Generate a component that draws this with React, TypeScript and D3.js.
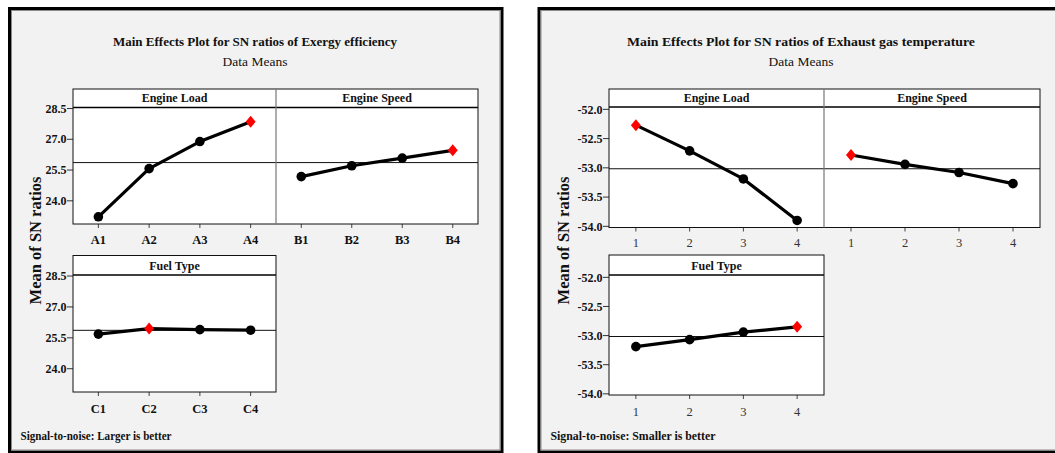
import React from "react";
import * as d3 from "d3";

// ---- Exergy efficiency (larger is better) ----
const loadLevelsA = ["A1", "A2", "A3", "A4"];
const speedLevelsB = ["B1", "B2", "B3", "B4"];
const fuelLevelsC = ["C1", "C2", "C3", "C4"];
const exergyLoadSN = [23.22, 25.57, 26.89, 27.86];
const exergySpeedSN = [25.18, 25.71, 26.08, 26.46];
const exergyFuelSN = [25.68, 25.95, 25.9, 25.87];
const exergyTicks = [24.0, 25.5, 27.0, 28.5];
const exergyTickLabels = ["24.0", "25.5", "27.0", "28.5"];

// ---- Exhaust gas temperature (smaller is better) ----
const numericLevels = ["1", "2", "3", "4"];
const exhaustLoadSN = [-52.27, -52.71, -53.19, -53.9];
const exhaustSpeedSN = [-52.78, -52.94, -53.08, -53.27];
const exhaustFuelSN = [-53.19, -53.07, -52.94, -52.85];
const exhaustTicks = [-54.0, -53.5, -53.0, -52.5, -52.0];
const exhaustTickLabels = ["-54.0", "-53.5", "-53.0", "-52.5", "-52.0"];

const factorNames = ["Engine Load", "Engine Speed", "Fuel Type"];

const SERIF = "'Liberation Serif', 'Times New Roman', 'DejaVu Serif', serif";

type Factor = { name: string; levels: string[]; values: number[] };
type Row = { top: number; header: number; bottom: number };

type ChartProps = {
  frame: { x: number; y: number; w: number; h: number };
  titleX: number;
  titleWidth: number;
  title: string;
  subtitle: string;
  footnote: string;
  footWidth: number;
  factors: Factor[];
  yDomain: [number, number];
  ticks: number[];
  tickLabels: string[];
  cols: [number, number, number];
  rows: Row[];
  boldX: boolean;
  xLabelBaseline: number[];
  yTitleX: number;
  footX: number;
};

function MainEffectsChart(p: ChartProps) {
  const [x0, xm, x1] = p.cols;
  const allValues = p.factors.flatMap((f) => f.values);
  const grandMean = d3.mean(allValues) as number;

  // grid position of each factor: (row, col)
  const slots = [
    [0, 0],
    [0, 1],
    [1, 0],
  ];

  return (
    <g>
      {/* outer frame */}
      <rect
        x={p.frame.x}
        y={p.frame.y}
        width={p.frame.w}
        height={p.frame.h}
        fill="#f2f2f2"
        stroke="#000"
        strokeWidth={3}
      />
      <rect
        x={p.frame.x + 2}
        y={p.frame.y + 2}
        width={p.frame.w - 4}
        height={p.frame.h - 4}
        fill="none"
        stroke="#8a8a8a"
        strokeWidth={1}
      />
      <text
        x={p.titleX}
        y={46}
        textAnchor="middle"
        fontFamily={SERIF}
        fontWeight="bold"
        fontSize={13.5}
        textLength={p.titleWidth}
        lengthAdjust="spacingAndGlyphs"
        fill="#111"
      >
        {p.title}
      </text>
      <text
        x={p.titleX}
        y={66}
        textAnchor="middle"
        fontFamily={SERIF}
        fontSize={13.5}
        fill="#111"
      >
        {p.subtitle}
      </text>

      {/* panel backgrounds */}
      {p.rows.map((r, ri) => {
        const right = ri === 0 ? x1 : xm;
        return (
          <rect
            key={"bg" + ri}
            x={x0}
            y={r.top}
            width={right - x0}
            height={r.bottom - r.top}
            fill="#fff"
          />
        );
      })}

      {p.factors.map((f, fi) => {
        const [ri, ci] = slots[fi];
        const r = p.rows[ri];
        const left = ci === 0 ? x0 : xm;
        const right = ci === 0 ? xm : x1;
        const x = d3.scalePoint<string>().domain(f.levels).range([left, right]).padding(0.5);
        const y = d3.scaleLinear().domain(p.yDomain).range([r.bottom, r.header]);
        const bestIdx = d3.maxIndex(f.values);
        const pts = f.values.map((v, i) => [x(f.levels[i]) as number, y(v)] as [number, number]);
        const line = d3.line();
        return (
          <g key={f.name}>
            {/* header strip */}
            <text
              x={(left + right) / 2}
              y={r.header - 5.5}
              textAnchor="middle"
              fontFamily={SERIF}
              fontWeight="bold"
              fontSize={12}
              fill="#111"
            >
              {f.name}
            </text>
            <line x1={left} x2={right} y1={r.header} y2={r.header} stroke="#000" strokeWidth={1.5} />
            {/* grand mean reference */}
            <line
              x1={left}
              x2={right}
              y1={y(grandMean)}
              y2={y(grandMean)}
              stroke="#111"
              strokeWidth={1}
            />
            {/* x ticks */}
            {f.levels.map((lv) => (
              <g key={lv}>
                <line
                  x1={x(lv)}
                  x2={x(lv)}
                  y1={r.bottom}
                  y2={r.bottom + 4}
                  stroke="#444"
                  strokeWidth={1}
                />
                <text
                  x={x(lv)}
                  y={p.xLabelBaseline[ri]}
                  textAnchor="middle"
                  fontFamily={SERIF}
                  fontWeight={p.boldX ? "bold" : "normal"}
                  fontSize={12.5}
                  fill={p.boldX ? "#111" : "#333"}
                >
                  {lv}
                </text>
              </g>
            ))}
            {/* y axis on first column */}
            {ci === 0 &&
              p.ticks.map((t, ti) => (
                <g key={t}>
                  <line x1={left - 6} x2={left} y1={y(t)} y2={y(t)} stroke="#333" strokeWidth={1} />
                  <text
                    x={left - 6.5}
                    y={y(t)}
                    dy="0.35em"
                    textAnchor="end"
                    fontFamily={SERIF}
                    fontWeight="bold"
                    fontSize={12}
                    fill="#111"
                  >
                    {p.tickLabels[ti]}
                  </text>
                </g>
              ))}
            {/* main effect line */}
            <path d={line(pts) || ""} fill="none" stroke="#000" strokeWidth={3.2} strokeLinejoin="round" />
            {pts.map(([px, py], i) =>
              i === bestIdx ? (
                <path
                  key={i}
                  d={`M${px},${py - 6}L${px + 5},${py}L${px},${py + 6}L${px - 5},${py}Z`}
                  fill="#ff0000"
                />
              ) : (
                <circle key={i} cx={px} cy={py} r={4.8} fill="#000" />
              )
            )}
          </g>
        );
      })}

      {/* panel outlines */}
      {p.rows.map((r, ri) => {
        const right = ri === 0 ? x1 : xm;
        return (
          <g key={"ol" + ri}>
            <rect
              x={x0}
              y={r.top}
              width={right - x0}
              height={r.bottom - r.top}
              fill="none"
              stroke="#111"
              strokeWidth={1}
            />
            {ri === 0 && (
              <line x1={xm} x2={xm} y1={r.top} y2={r.bottom} stroke="#777" strokeWidth={1.2} />
            )}
          </g>
        );
      })}

      <text
        transform={`translate(${p.yTitleX},240.5) rotate(-90)`}
        textAnchor="middle"
        fontFamily={SERIF}
        fontWeight="bold"
        fontSize={16.5}
        fill="#111"
      >
        Mean of SN ratios
      </text>
      <text
        x={p.footX}
        y={440}
        fontFamily={SERIF}
        fontWeight="bold"
        fontSize={12}
        textLength={p.footWidth}
        lengthAdjust="spacingAndGlyphs"
        fill="#111"
      >
        {p.footnote}
      </text>
    </g>
  );
}

export default function App() {
  const exergyFactors: Factor[] = [
    { name: factorNames[0], levels: loadLevelsA, values: exergyLoadSN },
    { name: factorNames[1], levels: speedLevelsB, values: exergySpeedSN },
    { name: factorNames[2], levels: fuelLevelsC, values: exergyFuelSN },
  ];
  const exhaustFactors: Factor[] = [
    { name: factorNames[0], levels: numericLevels, values: exhaustLoadSN },
    { name: factorNames[1], levels: numericLevels, values: exhaustSpeedSN },
    { name: factorNames[2], levels: numericLevels, values: exhaustFuelSN },
  ];

  return (
    <svg
      width={1055}
      height={453}
      style={{ position: "absolute", left: 0, top: 0, background: "#fff" }}
    >
      <MainEffectsChart
        frame={{ x: 9.5, y: 8.5, w: 492.5, h: 443.5 }}
        titleX={255}
        titleWidth={284}
        title="Main Effects Plot for SN ratios of Exergy efficiency"
        subtitle="Data Means"
        footnote="Signal-to-noise: Larger is better"
        footWidth={151}
        factors={exergyFactors}
        yDomain={[22.87, 28.55]}
        ticks={exergyTicks}
        tickLabels={exergyTickLabels}
        cols={[73, 276, 478]}
        rows={[
          { top: 89, header: 107.5, bottom: 224 },
          { top: 255.5, header: 275, bottom: 392 },
        ]}
        boldX={true}
        xLabelBaseline={[243.5, 412.5]}
        yTitleX={40.5}
        footX={20.5}
      />
      <MainEffectsChart
        frame={{ x: 539, y: 8.5, w: 530, h: 443.5 }}
        titleX={801}
        titleWidth={348}
        title="Main Effects Plot for SN ratios of Exhaust gas temperature"
        subtitle="Data Means"
        footnote="Signal-to-noise: Smaller is better"
        footWidth={165}
        factors={exhaustFactors}
        yDomain={[-54.02, -51.96]}
        ticks={exhaustTicks}
        tickLabels={exhaustTickLabels}
        cols={[609, 824, 1040]}
        rows={[
          { top: 89, header: 107, bottom: 227.5 },
          { top: 255, header: 275, bottom: 395 },
        ]}
        boldX={false}
        xLabelBaseline={[247, 416]}
        yTitleX={568.5}
        footX={550.5}
      />
    </svg>
  );
}
